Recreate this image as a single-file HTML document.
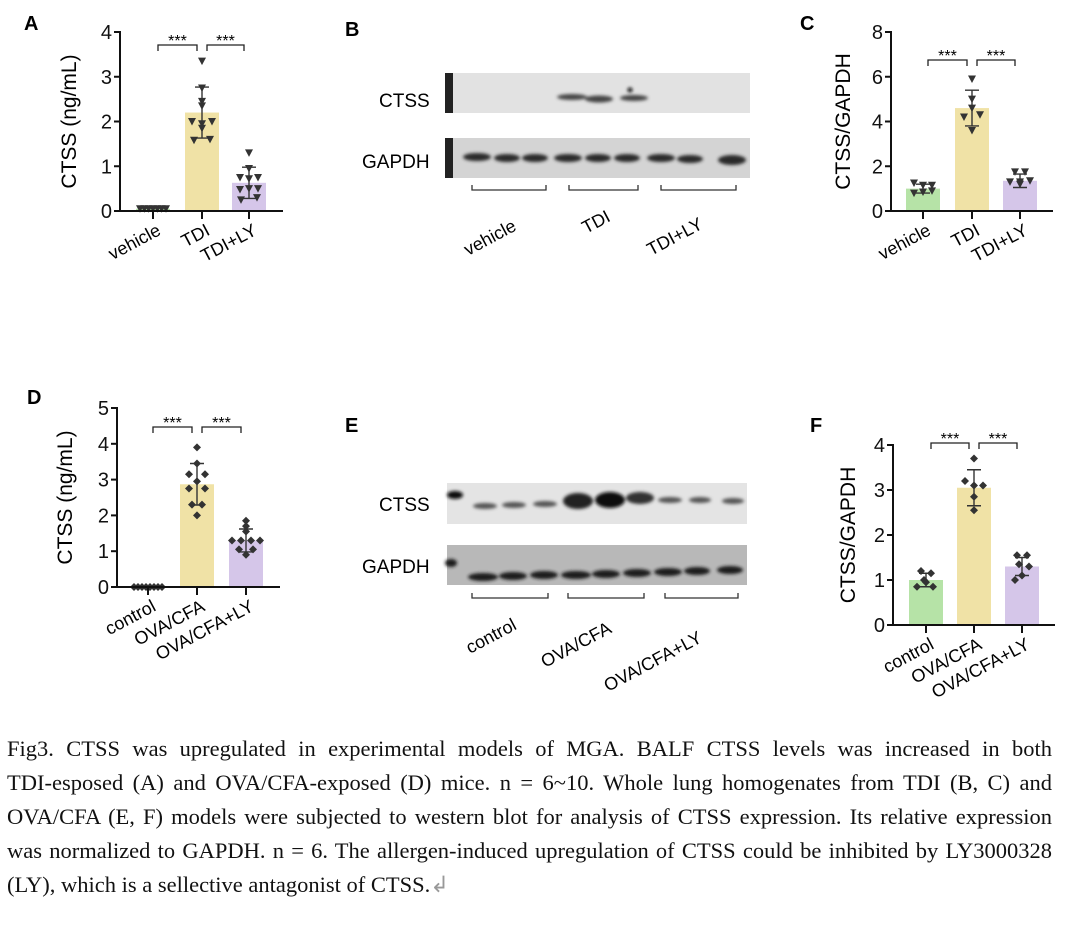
<!DOCTYPE html>
<html><head><meta charset="utf-8"><style>
body{margin:0;background:#fff;width:1080px;height:946px;overflow:hidden;position:relative;font-family:"Liberation Sans",sans-serif}
svg{position:absolute;left:0;top:0}
.cap{position:absolute;left:7px;width:1045px;font-family:"Liberation Serif",serif;font-size:22.5px;color:#111;line-height:34px;white-space:nowrap}
.j{text-align:justify;text-align-last:justify}
</style></head><body>
<svg id="s" width="1080" height="720" xmlns="http://www.w3.org/2000/svg">
<defs><filter id="bl" x="-50%" y="-50%" width="200%" height="200%"><feGaussianBlur stdDeviation="1.6"/></filter></defs>
<g font-weight="bold" font-size="20"><text x="24" y="30">A</text><text x="345" y="36">B</text><text x="800" y="30">C</text>
<text x="27" y="404">D</text><text x="345" y="432">E</text><text x="810" y="432">F</text></g>
<rect x="445" y="73" width="305" height="40" fill="#e2e2e2"/>
<rect x="445" y="73" width="8" height="40" fill="#222"/>
<g filter="url(#bl)" fill="#444">
<ellipse cx="572" cy="97" rx="15" ry="3"/><ellipse cx="599" cy="99" rx="14" ry="3.5"/><ellipse cx="634" cy="98" rx="14" ry="3"/>
<circle cx="630" cy="90" r="2.5" fill="#111"/></g>
<rect x="445" y="138" width="305" height="40" fill="#d4d4d4"/>
<rect x="445" y="138" width="8" height="40" fill="#222"/>
<g filter="url(#bl)" fill="#2a2a2a">
<ellipse cx="477" cy="157" rx="14" ry="4"/><ellipse cx="507" cy="158" rx="13" ry="4"/><ellipse cx="535" cy="158" rx="13" ry="4"/>
<ellipse cx="568" cy="158" rx="14" ry="4"/><ellipse cx="598" cy="158" rx="13" ry="4"/><ellipse cx="627" cy="158" rx="13" ry="4"/>
<ellipse cx="661" cy="158" rx="14" ry="4"/><ellipse cx="690" cy="159" rx="13" ry="4"/><ellipse cx="732" cy="160" rx="14" ry="5"/></g>
<g font-size="19"><text x="379" y="107">CTSS</text><text x="362" y="168">GAPDH</text></g>
<g stroke="#333" stroke-width="1.3" fill="none">
<path d="M472,185V190H546V185M569,185V190H638V185M661,185V190H736V185"/></g>
<g font-size="18"><text transform="translate(468,256) rotate(-28)">vehicle</text>
<text transform="translate(586,234) rotate(-28)">TDI</text><text transform="translate(651,256) rotate(-28)">TDI+LY</text></g>
<rect x="447" y="483" width="300" height="41" fill="#e4e4e4"/>
<g filter="url(#bl)" fill="#555">
<ellipse cx="455" cy="495" rx="8" ry="4" fill="#111"/>
<ellipse cx="485" cy="506" rx="12" ry="3"/><ellipse cx="514" cy="505" rx="12" ry="3"/><ellipse cx="545" cy="504" rx="12" ry="3"/>
<ellipse cx="578" cy="501" rx="15" ry="8" fill="#222"/><ellipse cx="610" cy="500" rx="15" ry="8" fill="#111"/><ellipse cx="640" cy="498" rx="14" ry="6" fill="#333"/>
<ellipse cx="670" cy="500" rx="12" ry="3"/><ellipse cx="700" cy="500" rx="11" ry="3"/><ellipse cx="733" cy="501" rx="11" ry="3"/></g>
<rect x="447" y="545" width="300" height="40" fill="#b8b8b8"/>
<g filter="url(#bl)" fill="#1a1a1a">
<ellipse cx="451" cy="563" rx="6" ry="4"/>
<ellipse cx="483" cy="577" rx="15" ry="4"/><ellipse cx="513" cy="576" rx="14" ry="4"/><ellipse cx="544" cy="575" rx="14" ry="4"/>
<ellipse cx="576" cy="575" rx="15" ry="4"/><ellipse cx="606" cy="574" rx="14" ry="4"/><ellipse cx="637" cy="573" rx="14" ry="4"/>
<ellipse cx="668" cy="572" rx="14" ry="4"/><ellipse cx="697" cy="571" rx="13" ry="4"/><ellipse cx="730" cy="570" rx="13" ry="4"/></g>
<g font-size="19"><text x="379" y="511">CTSS</text><text x="362" y="573">GAPDH</text></g>
<g stroke="#333" stroke-width="1.3" fill="none">
<path d="M472,593V598H548V593M568,593V598H644V593M665,593V598H738V593"/></g>
<g font-size="18"><text transform="translate(470,654) rotate(-28)">control</text>
<text transform="translate(545,668) rotate(-28)">OVA/CFA</text><text transform="translate(608,692) rotate(-28)">OVA/CFA+LY</text></g>
</svg>
<div class="cap j" style="top:732px">Fig3. CTSS was upregulated in experimental models of MGA. BALF CTSS levels was increased in both</div>
<div class="cap j" style="top:766px">TDI-esposed (A) and OVA/CFA-exposed (D) mice. n = 6~10. Whole lung homogenates from TDI (B, C) and</div>
<div class="cap j" style="top:800px">OVA/CFA (E, F) models were subjected to western blot for analysis of CTSS expression. Its relative expression</div>
<div class="cap j" style="top:834px">was normalized to GAPDH. n = 6. The allergen-induced upregulation of CTSS could be inhibited by LY3000328</div>
<div class="cap" style="top:868px">(LY), which is a sellective antagonist of CTSS.<span style="color:#999">&#8626;</span></div>
<script>
var s=document.getElementById('s'),h='';
var cols=['#b6e3a7','#f0e2a6','#d5c6e9'];
function chart(o){
 var u=(o.y0-o.ytop)/o.ymax, Y=function(v){return o.y0-v*u};
 o.bars.forEach(function(b,i){ if(b.v>0.02) h+='<rect x="'+(o.tx[i]-17)+'" y="'+Y(b.v)+'" width="34" height="'+(o.y0-Y(b.v))+'" fill="'+cols[o.c[i]]+'"/>';});
 o.bars.forEach(function(b,i){
  b.p.forEach(function(pt){var x=o.tx[i]+pt[0],y=Y(pt[1]);
   if(o.m=='t') h+='<path d="M'+(x-4)+','+(y-3.5)+'H'+(x+4)+'L'+x+','+(y+4)+'Z" fill="#333"/>';
   else h+='<path d="M'+x+','+(y-4)+'L'+(x+4)+','+y+'L'+x+','+(y+4)+'L'+(x-4)+','+y+'Z" fill="#333"/>';});
  if(b.sd){var t=Y(b.v+b.sd),bt=Y(b.v-b.sd);h+='<path d="M'+o.tx[i]+','+t+'V'+bt+'M'+(o.tx[i]-7)+','+t+'H'+(o.tx[i]+7)+'M'+(o.tx[i]-7)+','+bt+'H'+(o.tx[i]+7)+'" stroke="#333" stroke-width="1.4"/>';}
 });
 h+='<g stroke="#111" stroke-width="2" fill="none"><path d="M'+o.ax+','+(o.ytop-1)+'V'+o.y0+'H'+o.xe+'"/>';
 for(var v=0;v<=o.ymax+1e-9;v+=o.step) h+='<path d="M'+(o.ax-6)+','+Y(v)+'H'+o.ax+'"/>';
 o.tx.forEach(function(x){h+='<path d="M'+x+','+o.y0+'V'+(o.y0+8)+'"/>';});
 h+='</g><g font-size="20" text-anchor="end" fill="#111">';
 for(var v=0;v<=o.ymax+1e-9;v+=o.step) h+='<text x="'+(o.ax-8)+'" y="'+(Y(v)+7)+'">'+v+'</text>';
 h+='</g>';
 h+='<text font-size="21" text-anchor="middle" transform="translate('+o.lx+','+((o.y0+o.ytop)/2)+') rotate(-90)">'+o.yl+'</text>';
 var by=o.by;
 h+='<path d="M'+(o.tx[0]+5)+','+(by+6)+'V'+by+'H'+(o.tx[1]-5)+'V'+(by+6)+'M'+(o.tx[1]+5)+','+(by+6)+'V'+by+'H'+(o.tx[2]-5)+'V'+(by+6)+'" stroke="#222" stroke-width="1.3" fill="none"/>';
 h+='<g font-size="16" text-anchor="middle"><text x="'+(o.tx[0]+o.tx[1])/2+'" y="'+(by+1)+'">***</text><text x="'+(o.tx[1]+o.tx[2])/2+'" y="'+(by+1)+'">***</text></g>';
 o.xl.forEach(function(l,i){h+='<text font-size="18" text-anchor="end" transform="translate('+(o.tx[i]+9)+','+(o.y0+23)+') rotate(-28)">'+l+'</text>';});
}
function spread(vals,w){var n=vals.length;return vals.map(function(v,k){return [(k-(n-1)/2)*(w/Math.max(n-1,1)),v];});}
chart({ax:120,y0:211,ytop:32,ymax:4,step:1,xe:283,tx:[153,202,249],c:[0,1,2],m:'t',lx:76,yl:'CTSS (ng/mL)',by:45,xl:['vehicle','TDI','TDI+LY'],
 bars:[{v:0.05,p:spread([0.05,0.05,0.05,0.05,0.05,0.05,0.05],26)},
 {v:2.2,sd:0.57,p:[[0,3.35],[0,2.75],[0,2.45],[0,2.35],[-10,2.0],[10,2.0],[0,1.95],[-8,1.58],[8,1.6],[0,1.85]]},
 {v:0.63,sd:0.35,p:[[0,1.3],[0,0.95],[-9,0.75],[9,0.75],[0,0.72],[-9,0.48],[9,0.5],[0,0.5],[-8,0.25],[8,0.3]]}]});
chart({ax:891,y0:211,ytop:32,ymax:8,step:2,xe:1053,tx:[923,972,1020],c:[0,1,2],m:'t',lx:850,yl:'CTSS/GAPDH',by:60,xl:['vehicle','TDI','TDI+LY'],
 bars:[{v:1.0,sd:0.2,p:[[-9,1.25],[0,1.15],[9,1.15],[-9,0.8],[0,0.85],[9,0.9]]},
 {v:4.6,sd:0.8,p:[[0,5.9],[0,5.0],[0,4.6],[-8,4.2],[8,4.3],[0,3.6]]},
 {v:1.35,sd:0.3,p:[[-5,1.75],[5,1.75],[-10,1.3],[0,1.3],[10,1.35],[0,1.2]]}]});
chart({ax:117,y0:587,ytop:408,ymax:5,step:1,xe:280,tx:[148,197,246],c:[0,1,2],m:'d',lx:72,yl:'CTSS (ng/mL)',by:427,xl:['control','OVA/CFA','OVA/CFA+LY'],
 bars:[{v:0,p:spread([0,0,0,0,0,0,0,0],28)},
 {v:2.87,sd:0.58,p:[[0,3.9],[0,3.45],[-8,3.15],[8,3.15],[0,2.95],[-8,2.75],[8,2.75],[-5,2.3],[5,2.3],[0,2.0]]},
 {v:1.3,sd:0.32,p:[[0,1.85],[0,1.7],[0,1.55],[-14,1.3],[-5,1.3],[5,1.3],[14,1.3],[-7,1.05],[7,1.05],[0,0.9]]}]});
chart({ax:893,y0:625,ytop:445,ymax:4,step:1,xe:1055,tx:[926,974,1022],c:[0,1,2],m:'d',lx:855,yl:'CTSS/GAPDH',by:443,xl:['control','OVA/CFA','OVA/CFA+LY'],
 bars:[{v:1.0,sd:0.15,p:[[-5,1.2],[5,1.15],[-2,1.0],[-9,0.85],[7,0.85],[0,0.95]]},
 {v:3.05,sd:0.4,p:[[0,3.7],[-9,3.2],[0,3.1],[9,3.1],[0,2.85],[0,2.55]]},
 {v:1.3,sd:0.2,p:[[-5,1.55],[5,1.55],[-3,1.35],[7,1.3],[0,1.1],[-7,1.0]]}]});
s.insertAdjacentHTML('beforeend',h);
</script>
</body></html>
